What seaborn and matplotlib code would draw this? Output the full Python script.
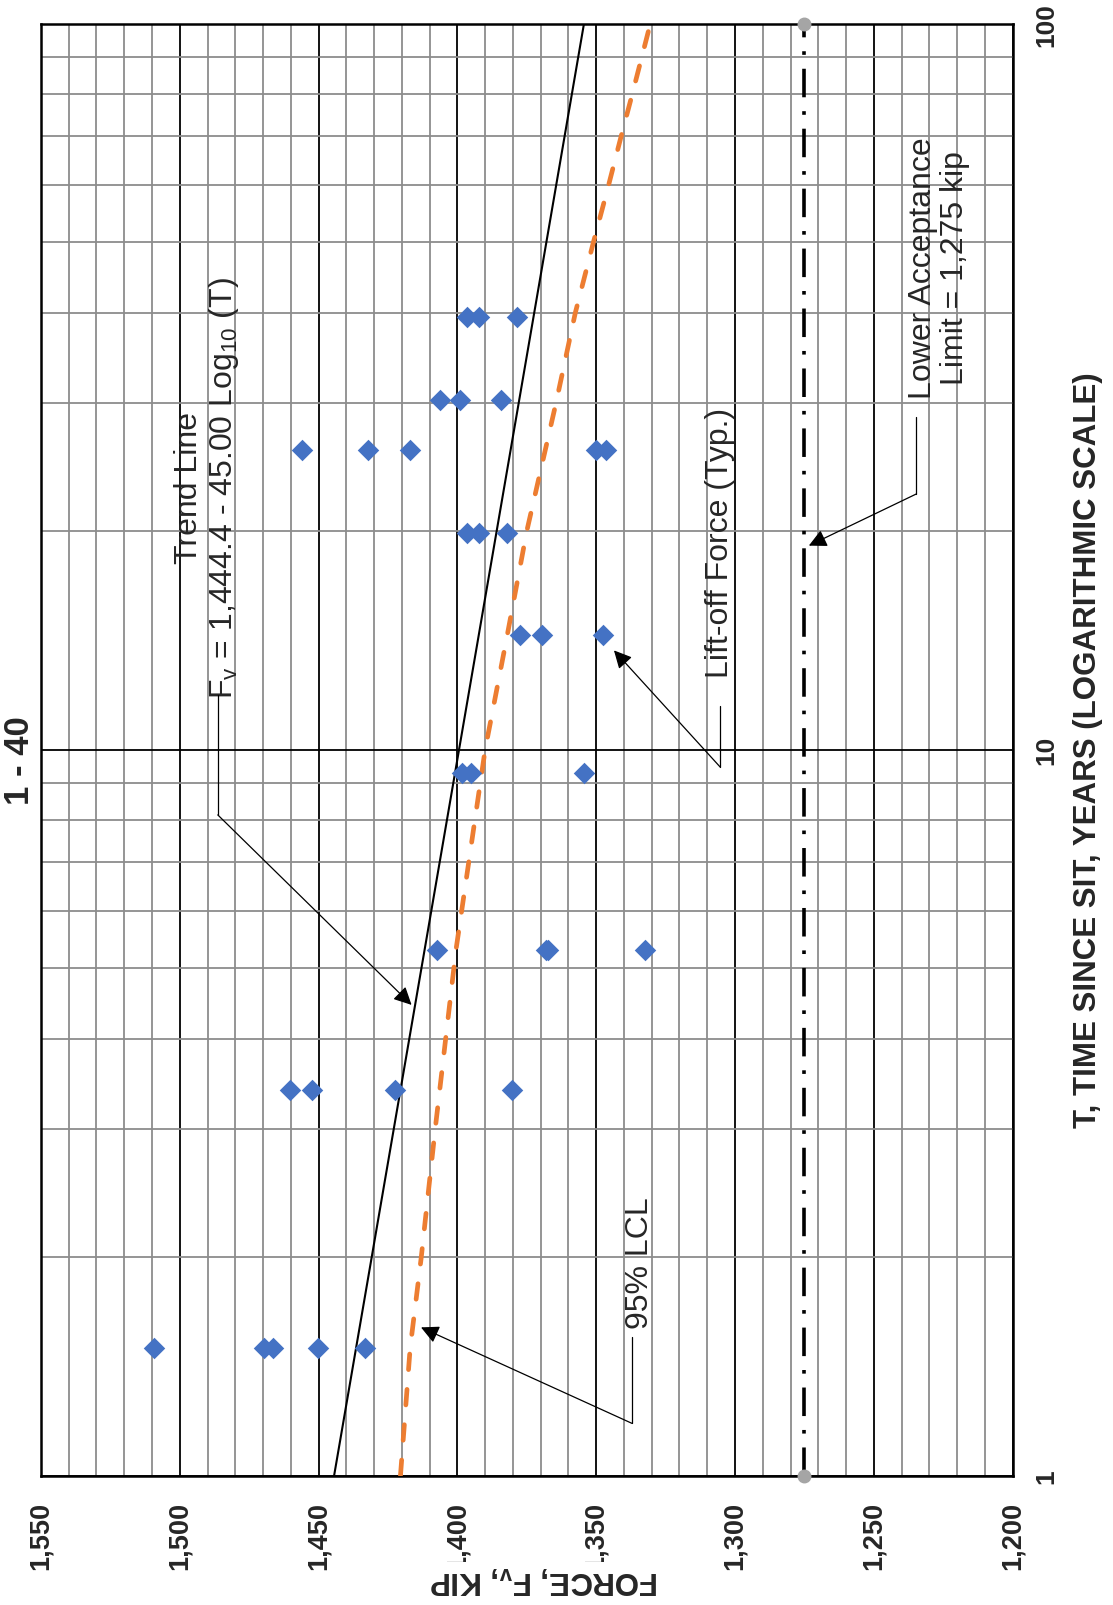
import numpy as np
import pandas as pd
import matplotlib
matplotlib.use('Agg')
import matplotlib.pyplot as plt
import seaborn as sns
from matplotlib.ticker import FixedLocator, NullFormatter, FuncFormatter

# lift-off readings: time since SIT (years) and force (kip)
time_years = [1.5, 1.5, 1.5, 1.5, 1.5,
              3.4, 3.4, 3.4, 3.4,
              5.3, 5.3, 5.3, 5.3,
              9.3, 9.3, 9.3,
              14.4, 14.4, 14.4,
              19.9, 19.9, 19.9,
              25.9, 25.9, 25.9, 25.9, 25.9,
              30.3, 30.3, 30.3,
              39.5, 39.5, 39.5]
liftoff_kip = [1509.2, 1469.5, 1466.3, 1450.3, 1433.3,
               1460.3, 1452.4, 1422.3, 1380.4,
               1407.3, 1368.2, 1367.4, 1332.5,
               1398.3, 1395.1, 1354.5,
               1377.4, 1369.5, 1347.6,
               1396.4, 1392.2, 1382.3,
               1456.0, 1432.3, 1417.2, 1350.2, 1346.3,
               1406.4, 1399.2, 1384.2,
               1396.4, 1392.2, 1378.5]

# trend line end points
trend_years = [1, 100]
trend_kip = [1444.4, 1354.4]

# 95% lower confidence limit
lcl_years = [1, 1.5, 2, 3, 5.3, 10, 14.4, 20, 30, 40, 50, 60, 70, 80, 100]
lcl_kip = [1420.5, 1417, 1413, 1408, 1400.5, 1390, 1382, 1375, 1364.5,
           1357.5, 1351, 1345.5, 1341, 1337, 1330.5]

# lower acceptance limit
limit_years = [1, 100]
limit_kip = [1275, 1275]

force_ticks = [1550, 1500, 1450, 1400, 1350, 1300, 1250, 1200]
time_ticks = [1, 10, 100]
time_labels = ['1', '10', '100']

sns.set_style('white')
plt.rcParams['font.family'] = ['Liberation Sans', 'DejaVu Sans']
plt.rcParams['mathtext.fontset'] = 'custom'
plt.rcParams['mathtext.rm'] = 'Liberation Sans'
plt.rcParams['mathtext.it'] = 'Liberation Sans:italic'
plt.rcParams['mathtext.bf'] = 'Liberation Sans:bold'
plt.rcParams['ytick.alignment'] = 'center'

fig = plt.figure(figsize=(11.13, 16.06), dpi=100)
ax = fig.add_axes([0.0368, 0.0806, 0.873, 0.904])

df = pd.DataFrame({'years': time_years, 'kip': liftoff_kip})
sns.scatterplot(data=df, x='kip', y='years', marker='D', s=120, color='#4472C4',
                linewidth=0, ax=ax, zorder=5, legend=False)

ax.plot(trend_kip, trend_years, color='black', lw=1.5, zorder=4)
ax.plot(lcl_kip, lcl_years, color='#ED7D31', lw=3.4, linestyle=(0, (3.3, 4.2)),
        dash_capstyle='round', zorder=4)
ax.plot(limit_kip, limit_years, color='black', lw=2.6,
        linestyle=(0, (7.9, 3.85, 1, 3.85)), zorder=4)
ax.plot(limit_kip, limit_years, 'o', color='#A5A5A5', ms=9, clip_on=False, zorder=6)

# axes
ax.set_xlim(1550, 1200)
ax.set_yscale('log')
ax.set_ylim(1, 100)
ax.xaxis.set_major_locator(FixedLocator(force_ticks))
ax.xaxis.set_minor_locator(FixedLocator([v for v in range(1200, 1551, 10) if v % 50]))
ax.xaxis.set_major_formatter(FuncFormatter(lambda v, p: f'{v:,.0f}'))
ax.yaxis.set_major_locator(FixedLocator(time_ticks))
ax.yaxis.set_minor_locator(FixedLocator([2, 3, 4, 5, 6, 7, 8, 9, 20, 30, 40, 50, 60, 70, 80, 90]))
ax.yaxis.set_major_formatter(FuncFormatter(lambda v, p: time_labels[time_ticks.index(round(v))]))
ax.yaxis.set_minor_formatter(NullFormatter())
ax.yaxis.tick_right()
ax.yaxis.set_label_position('right')

ax.set_axisbelow(True)
ax.grid(which='minor', axis='both', color='#8c8c8c', lw=1.3)
ax.grid(which='major', axis='both', color='black', lw=1.3)
for s in ax.spines.values():
    s.set_color('black')
    s.set_linewidth(1.8)

ax.tick_params(which='both', length=0)
ax.tick_params(axis='x', labelrotation=90, pad=18, labelsize=19.5)
ax.tick_params(axis='y', labelrotation=90, pad=16, labelsize=19)
for lab in ax.get_xticklabels() + ax.get_yticklabels():
    lab.set_fontweight('bold')

ax.set_xlabel(r'FORCE, F$_\mathbf{v}$, KIP', fontsize=22.5, fontweight='bold',
              rotation=180, bbox=dict(facecolor='white', edgecolor='none', pad=1))
ax.xaxis.label.set_verticalalignment('center')
ax.xaxis.set_label_coords(0.518, -0.071)
ax.set_ylabel('T, TIME SINCE SIT, YEARS (LOGARITHMIC SCALE)', fontsize=22.5,
              fontweight='bold', rotation=90, labelpad=10)
ax.text(-0.005, 0.493, '1 - 40', transform=ax.transAxes, rotation=90, ha='right',
        va='center', fontsize=25, fontweight='bold')

# annotations
txt = dict(rotation=90, ha='center', va='center', fontsize=23, linespacing=1.1,
           multialignment='center', zorder=7)
ax.text(1490, 23.0, 'Trend Line\n' + r'F$_\mathrm{v}$ = 1,444.4 - 45.00 Log$_\mathrm{10}$ (T)', **txt)
ax.text(1305.3, 19.3, 'Lift-off Force (Typ.)', **txt)
ax.text(1334.3, 1.97, '95% LCL', **txt)
ax.text(1226.6, 46.2, 'Lower Acceptance\nLimit = 1,275 kip', **txt)

arrow = dict(arrowstyle='-|>,head_length=0.6,head_width=0.3', color='black', lw=0.9,
             mutation_scale=18, shrinkA=0, shrinkB=0)
leaders = [((1486.3, 11.9), (1486.3, 8.13), (1416.5, 4.45)),
           ((1305.3, 11.5), (1305.3, 9.46), (1343.6, 13.7)),
           ((1337.1, 1.55), (1337.1, 1.18), (1413.1, 1.6)),
           ((1234.7, 28.7), (1234.7, 22.5), (1273.4, 19.1))]
for start, elbow, tip in leaders:
    ax.plot([start[0], elbow[0]], [start[1], elbow[1]], color='black', lw=0.9, zorder=7)
    ax.annotate('', xy=tip, xytext=elbow, arrowprops=arrow, zorder=7)

fig.savefig('out.png', dpi=100)
